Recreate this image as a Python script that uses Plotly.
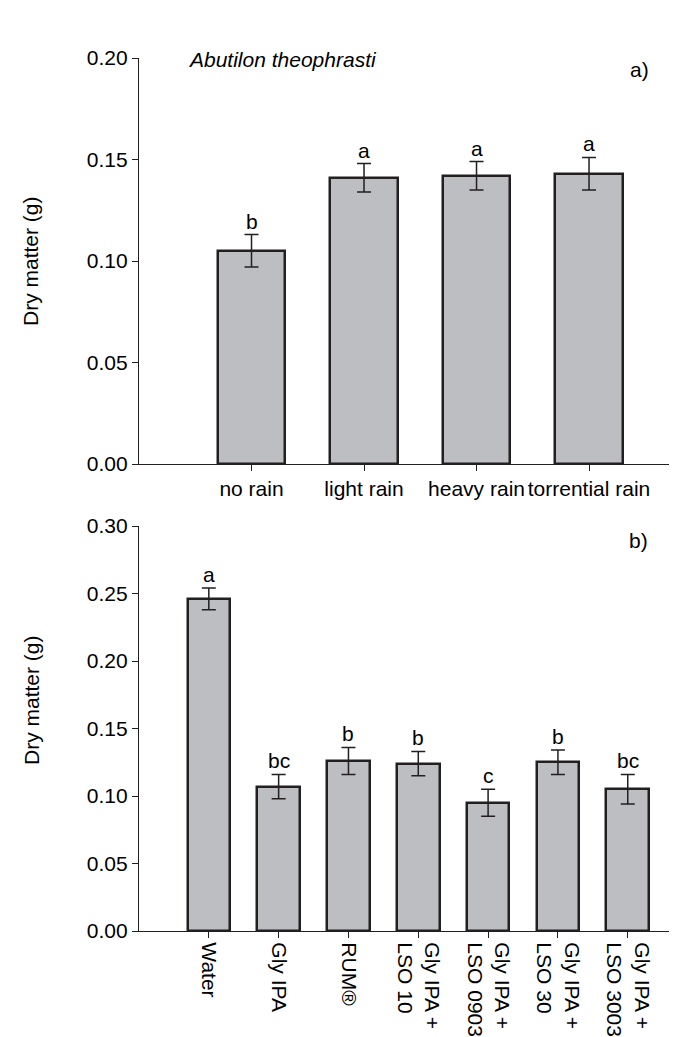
import plotly.graph_objects as go

# ---- data ----
rain_categories = ["no rain", "light rain", "heavy rain", "torrential rain"]
rain_means = [0.105, 0.141, 0.142, 0.143]
rain_errors = [0.008, 0.007, 0.007, 0.008]
rain_letters = ["b", "a", "a", "a"]

treat_categories = ["Water", "Gly IPA", "RUM®", "Gly IPA +<br>LSO 10",
                    "Gly IPA +<br>LSO 0903", "Gly IPA +<br>LSO 30", "Gly IPA +<br>LSO 3003"]
treat_means = [0.246, 0.107, 0.126, 0.124, 0.095, 0.125, 0.105]
treat_errors = [0.008, 0.009, 0.010, 0.009, 0.010, 0.009, 0.011]
treat_letters = ["a", "bc", "b", "b", "c", "b", "bc"]

top_ticks = [0.0, 0.05, 0.10, 0.15, 0.20]
bot_ticks = [0.0, 0.05, 0.10, 0.15, 0.20, 0.25, 0.30]

FONT = "Liberation Sans, Arial, Helvetica, sans-serif"
INK = "#231f20"
FILL = "#bdbec2"
FS = 21

W, H = 677, 1037
ML, MR, MT, MB = 131, 0, 50, 114
PW, PH = W - ML - MR, H - MT - MB


def px_x(p):
    return (p - ML) / PW


def px_y(p):
    return (H - MB - p) / PH


rain_x = list(range(len(rain_categories)))
treat_x = list(range(len(treat_categories)))

fig = go.Figure()
fig.add_trace(go.Bar(
    x=rain_x, y=rain_means, width=0.6,
    marker=dict(color=FILL, line=dict(color=INK, width=2.5)),
    error_y=dict(type="data", array=rain_errors, color=INK, thickness=1.5, width=7),
    xaxis="x", yaxis="y", showlegend=False))
fig.add_trace(go.Bar(
    x=treat_x, y=treat_means, width=0.61,
    marker=dict(color=FILL, line=dict(color=INK, width=2.5)),
    error_y=dict(type="data", array=treat_errors, color=INK, thickness=1.5, width=7),
    xaxis="x2", yaxis="y2", showlegend=False))

txtfont = dict(size=FS, color="black", family=FONT)
ann = []
for xi, m, e, t in zip(rain_x, rain_means, rain_errors, rain_letters):
    ann.append(dict(x=xi, y=m + e, xref="x", yref="y", text=t, showarrow=False,
                    yanchor="bottom", yshift=0, font=txtfont))
for xi, m, e, t in zip(treat_x, treat_means, treat_errors, treat_letters):
    ann.append(dict(x=xi, y=m + e, xref="x2", yref="y2", text=t, showarrow=False,
                    yanchor="bottom", yshift=0, font=txtfont))

ann.append(dict(x=px_x(178), y=px_y(52), xref="paper", yref="paper", xanchor="left", yanchor="middle",
                text="<i>Abutilon theophrasti</i>", showarrow=False, font=txtfont))
ann.append(dict(x=px_x(643), y=px_y(62), xref="paper", yref="paper", xanchor="right", yanchor="middle",
                text="a)", showarrow=False, font=txtfont))
ann.append(dict(x=px_x(642), y=px_y(532), xref="paper", yref="paper", xanchor="right", yanchor="middle",
                text="b)", showarrow=False, font=txtfont))
ann.append(dict(x=px_x(23), y=px_y(253), xref="paper", yref="paper", xanchor="center", yanchor="middle",
                text="Dry matter (g)", textangle=-90, showarrow=False, font=txtfont))
ann.append(dict(x=px_x(23), y=px_y(692), xref="paper", yref="paper", xanchor="center", yanchor="middle",
                text="Dry matter (g)", textangle=-90, showarrow=False, font=txtfont))

axis_common = dict(showline=True, linecolor=INK, linewidth=1.3, ticks="outside",
                   tickcolor=INK, tickwidth=1.3, showgrid=False, zeroline=False,
                   tickfont=txtfont)

fig.update_layout(
    width=W, height=H,
    margin=dict(l=ML, r=MR, t=MT, b=MB),
    paper_bgcolor="white", plot_bgcolor="white",
    bargap=0,
    xaxis=dict(**axis_common, domain=[0, 1], anchor="y", range=[-1, 3.853],
               tickvals=rain_x, ticktext=rain_categories, ticklen=6),
    yaxis=dict(**axis_common, domain=[px_y(456), 1], anchor="x", range=[0, 0.2],
               tickvals=top_ticks, tickformat=".2f", ticklen=6),
    xaxis2=dict(**axis_common, domain=[0, 1], anchor="y2", range=[-1, 6.82],
                tickvals=treat_x, ticktext=treat_categories, tickangle=90, ticklen=6),
    yaxis2=dict(**axis_common, domain=[0, px_y(518)], anchor="x2", range=[0, 0.30],
                tickvals=bot_ticks, tickformat=".2f", ticklen=6),
    annotations=ann,
)

fig.write_html("out.html")
